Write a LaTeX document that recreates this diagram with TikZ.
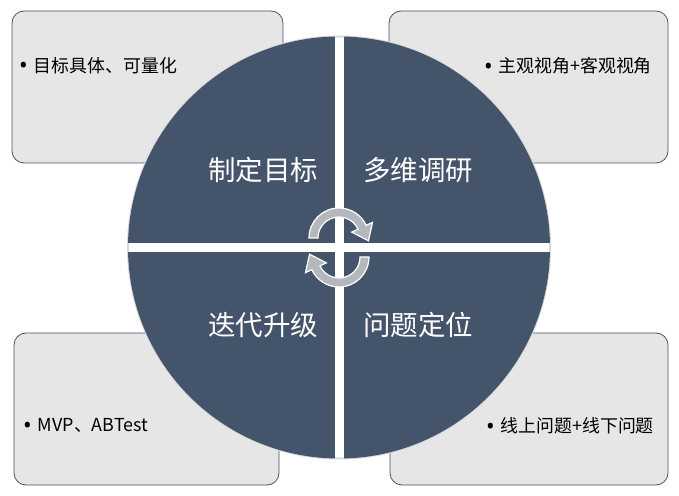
\documentclass[tikz,border=0pt]{standalone}
\usepackage{fontspec}
\setmainfont{Noto Sans CJK SC}
\newfontfamily\dotfont{Noto Sans}
\usetikzlibrary{calc}

\definecolor{slate}{HTML}{44546A}
\definecolor{panel}{HTML}{E7E6E6}
\definecolor{arrowgray}{HTML}{B4B8BD}

\newcommand{\bulletmark}{\raisebox{-1.2pt}{\dotfont\fontsize{23}{23}\selectfont •}\hspace{6pt}}

\tikzset{
  note/.style={draw=slate, fill=panel, rounded corners=12pt, line width=0.8pt},
  stage/.style={text=white, font=\fontsize{27.5}{30}\selectfont},
  point/.style={text=black, font=\fontsize{17.9}{20}\selectfont, inner sep=0pt},
  quarter/.style={fill=slate},
  turn/.style={fill=arrowgray, draw=white, line width=1.2pt},
  turnarrow/.pic={
    \fill[turn] (180:30) arc[start angle=180, end angle=25, radius=30]
      -- (25:37) -- ($(25:25.5)+(-65:15)$) -- (25:14) -- (25:21)
      arc[start angle=25, end angle=180, radius=21] -- cycle;
  }
}

\begin{document}
\begin{tikzpicture}[x=1pt, y=1pt]
  \useasboundingbox (0,0) rectangle (679,495);

  % Define boxes
  \node[note, minimum width=271pt, minimum height=152pt] (goalbox)   at (147.5,408) {};
  \node[note, minimum width=279pt, minimum height=152pt] (surveybox) at (528.5,408) {};
  \node[note, minimum width=265pt, minimum height=152pt] (iterbox)   at (146.5,86) {};
  \node[note, minimum width=278pt, minimum height=152pt] (locbox)    at (529,86) {};

  % Circle in four quarters
  \coordinate (O) at (339,247.5);
  \draw[black!15, line width=2pt] (O) circle (211);
  \begin{scope}
    \clip (O) circle (211);
    \fill[quarter] ($(O)+(-4.5,4.5)$)  rectangle ($(O)+(-215,215)$);
    \fill[quarter] ($(O)+(4.5,4.5)$)   rectangle ($(O)+(215,215)$);
    \fill[quarter] ($(O)+(-4.5,-4.5)$) rectangle ($(O)+(-215,-215)$);
    \fill[quarter] ($(O)+(4.5,-4.5)$)  rectangle ($(O)+(215,-215)$);
  \end{scope}

  % Stage labels
  \node[stage] (plan)    at (263,325) {制定目标};
  \node[stage] (survey)  at (418,325) {多维调研};
  \node[stage] (iterate) at (263,170) {迭代升级};
  \node[stage] (locate)  at (418,170) {问题定位};

  % Turning arrows
  \pic at (339,257) {turnarrow};
  \pic[rotate=180] at (339,238) {turnarrow};

  % Box texts
  \node[point, anchor=west] (goaltext)   at (19,429)  {\bulletmark 目标具体、可量化};
  \node[point, anchor=east] (surveytext) at (652,429) {\bulletmark 主观视角+客观视角};
  \node[point, anchor=west] (itertext)   at (23,69)   {\bulletmark MVP、ABTest};
  \node[point, anchor=east] (loctext)    at (654,69)  {\bulletmark 线上问题+线下问题};
\end{tikzpicture}
\end{document}
